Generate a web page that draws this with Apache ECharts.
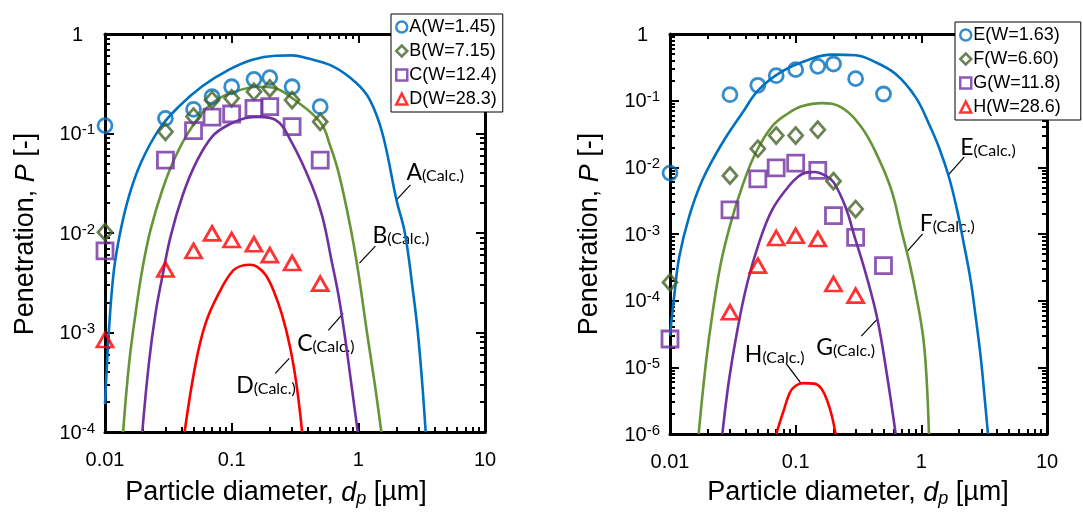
<!DOCTYPE html>
<html>
<head>
<meta charset="utf-8">
<script src="https://cdn.jsdelivr.net/npm/echarts@6/dist/echarts.min.js"></script>
<style>
  html, body { margin: 0; padding: 0; background: #fff; }
  #chart { width: 1083px; height: 514px; }
</style>
</head>
<body>
<div id="chart"></div>
<script>
// ---------------- data ----------------
// Left panel: measured penetration
const dpLeft = [0.01, 0.03, 0.05, 0.07, 0.1, 0.15, 0.2, 0.3, 0.5];
const penA = [0.12, 0.142, 0.175, 0.234, 0.295, 0.35, 0.364, 0.295, 0.186];
const penB = [0.0102, 0.104, 0.148, 0.217, 0.226, 0.263, 0.284, 0.217, 0.131];
const penC = [0.0066, 0.054, 0.107, 0.146, 0.157, 0.179, 0.186, 0.117, 0.054];
const penD = [0.00084, 0.0043, 0.0066, 0.0099, 0.0085, 0.0077, 0.006, 0.005, 0.0031];

// Right panel: measured penetration
const dpE = [0.01, 0.03, 0.05, 0.07, 0.1, 0.15, 0.2, 0.3, 0.5];
const penE = [0.0082, 0.123, 0.17, 0.237, 0.292, 0.327, 0.355, 0.214, 0.126];
const dpF = [0.01, 0.03, 0.05, 0.07, 0.1, 0.15, 0.2, 0.3];
const penF = [1.88e-4, 7.5e-3, 0.019, 0.030, 0.030, 0.0367, 6.2e-3, 2.37e-3];
const dpG = [0.01, 0.03, 0.05, 0.07, 0.1, 0.15, 0.2, 0.3, 0.5];
const penG = [2.66e-5, 2.3e-3, 6.7e-3, 9.8e-3, 0.0116, 9.0e-3, 1.88e-3, 8.9e-4, 3.35e-4];
const dpH = [0.03, 0.05, 0.07, 0.1, 0.15, 0.2, 0.3];
const penH = [6.7e-5, 3.35e-4, 8.7e-4, 9.4e-4, 8.4e-4, 1.78e-4, 1.19e-4];

// Calculated curves, left panel
const calcA_dp = [0.01, 0.01075, 0.01178, 0.0133, 0.01545, 0.0191, 0.0267, 0.0384, 0.0586, 0.0953, 0.146, 0.222, 0.3, 0.388, 0.631, 0.964, 1.23, 1.55, 2.0, 2.33, 2.7, 2.95, 3.2, 3.4];
const calcA_p  = [1.9e-4, 1.07e-3, 4.3e-3, 0.0107, 0.0234, 0.050, 0.110, 0.187, 0.298, 0.438, 0.552, 0.605, 0.61, 0.574, 0.473, 0.322, 0.219, 0.1, 0.0215, 0.01, 2.6e-3, 1e-3, 3e-4, 1e-4];
const calcB_dp = [0.0139, 0.0155, 0.01746, 0.0197, 0.0229, 0.0284, 0.0361, 0.049, 0.0704, 0.1076, 0.164, 0.22, 0.3, 0.5, 0.6, 0.7, 0.86, 1.0, 1.17, 1.35, 1.52];
const calcB_p  = [1e-4, 4.9e-4, 1.58e-3, 4.3e-3, 0.0108, 0.0272, 0.059, 0.118, 0.203, 0.265, 0.295, 0.285, 0.227, 0.13, 0.075, 0.04, 0.012, 4e-3, 1e-3, 3e-4, 1e-4];
const calcC_dp = [0.0197, 0.0222, 0.0251, 0.0284, 0.033, 0.0408, 0.052, 0.0704, 0.0953, 0.129, 0.164, 0.22, 0.3, 0.43, 0.52, 0.62, 0.7, 0.78, 0.86, 0.93, 0.99];
const calcC_p  = [1e-4, 4.9e-4, 1.58e-3, 3.67e-3, 9.3e-3, 0.0234, 0.050, 0.0935, 0.123, 0.143, 0.147, 0.138, 0.08, 0.03, 0.0146, 5e-3, 2.3e-3, 9.5e-4, 3.8e-4, 1.8e-4, 1e-4];
const calcD_dp = [0.0425, 0.052, 0.0624, 0.0795, 0.101, 0.121, 0.14, 0.158, 0.185, 0.215, 0.25, 0.29, 0.325, 0.36];
const calcD_p  = [1e-4, 4.9e-4, 1.25e-3, 2.5e-3, 4.1e-3, 4.7e-3, 4.8e-3, 4.6e-3, 3.8e-3, 2.6e-3, 1.5e-3, 7e-4, 3e-4, 1e-4];

// Calculated curves, right panel
const calcE_dp = [0.01, 0.0108, 0.01186, 0.01422, 0.01815, 0.0261, 0.0376, 0.0509, 0.078, 0.127, 0.194, 0.3, 0.407, 0.625, 0.902, 1.15, 1.38, 1.66, 1.93, 2.18, 2.47, 2.71, 2.97, 3.19, 3.39];
const calcE_p  = [3e-5, 1.16e-4, 4.6e-4, 1.84e-3, 6.5e-3, 0.0232, 0.0653, 0.146, 0.275, 0.412, 0.49, 0.48, 0.398, 0.251, 0.112, 0.0447, 0.02, 7.1e-3, 2.24e-3, 7.1e-4, 2.0e-4, 5.6e-5, 1.41e-5, 3.5e-6, 1e-6];
const calcF_dp = [0.0169, 0.0193, 0.0218, 0.0254, 0.0304, 0.0376, 0.048, 0.065, 0.088, 0.112, 0.161, 0.231, 0.334, 0.453, 0.579, 0.695, 0.81, 0.916, 1.035, 1.1, 1.15];
const calcF_p  = [1e-6, 1.16e-5, 6.5e-5, 3.67e-4, 1.46e-3, 5.2e-3, 0.0164, 0.0412, 0.0653, 0.0822, 0.092, 0.0794, 0.0398, 0.0141, 4.5e-3, 1.12e-3, 3.5e-4, 1.12e-4, 2.8e-5, 7e-6, 1e-6];
const calcG_dp = [0.0261, 0.0295, 0.0344, 0.0412, 0.051, 0.065, 0.088, 0.105, 0.123, 0.143, 0.17, 0.2, 0.25, 0.295, 0.367, 0.447, 0.53, 0.625];
const calcG_p  = [1e-6, 6.5e-6, 3.67e-5, 1.84e-4, 7.3e-4, 2.3e-3, 5.2e-3, 7.3e-3, 8.4e-3, 8.5e-3, 7.6e-3, 6.0e-3, 2.5e-3, 9e-4, 2.3e-4, 5.3e-5, 8.2e-6, 1e-6];
const calcH_dp = [0.07, 0.08, 0.09, 0.1, 0.115, 0.14, 0.16, 0.18, 0.195, 0.208];
const calcH_p  = [1e-6, 2.2e-6, 4.2e-6, 5.3e-6, 5.8e-6, 5.7e-6, 4.8e-6, 3e-6, 1.8e-6, 1e-6];

// Axis ticks and labels
const xTicks = [0.01, 0.1, 1, 10];
const xTickLabels = ['0.01', '0.1', '1', '10'];
const yTicksLeft = [1e-4, 1e-3, 1e-2, 1e-1, 1];
const yTicksRight = [1e-6, 1e-5, 1e-4, 1e-3, 1e-2, 1e-1, 1];

// Legend names
const namesLeft = ['A(W=1.45)', 'B(W=7.15)', 'C(W=12.4)', 'D(W=28.3)'];
const namesRight = ['E(W=1.63)', 'F(W=6.60)', 'G(W=11.8)', 'H(W=28.6)'];

// ---------------- styling ----------------
const FONT = '"Liberation Sans", Arial, Helvetica, sans-serif';
const CALC_FONT = 'Lato, "Open Sans", sans-serif';
const BLUE = '#0070C0';
const GREEN_LINE = '#669436';
const GREEN_MARK = '#456228';
const PURPLE = '#7030A0';
const RED = '#FF0000';

const grids = [
  { left: 105, top: 34, width: 380, height: 398 },
  { left: 670, top: 34, width: 377, height: 400 }
];

const AX_PER_GRID = 5;

function exps(ticks) { return ticks.map(v => Math.round(Math.log10(v))); }
function minorExps(ticks) {
  const e = exps(ticks), out = [];
  for (let i = 0; i < e.length - 1; i++) {
    for (let k = 2; k <= 9; k++) out.push(e[i] + Math.log10(k));
  }
  return out;
}

const yRich = {
  b: { fontSize: 20, fontFamily: FONT, color: '#000', lineHeight: 22, verticalAlign: 'bottom' },
  s: { fontSize: 15, fontFamily: FONT, color: '#000', lineHeight: 16, verticalAlign: 'top' },
  pad: { width: 12, fontSize: 15, lineHeight: 16 }
};

function yLabel(v) {
  const e = Math.round(v);
  if (e === 0) return '{b|1}{pad|\u00a0}';
  return '{b|10}{s|' + e + '}';
}
function xLabel(v) {
  const e = Math.round(v);
  const idx = exps(xTicks).indexOf(e);
  return idx >= 0 ? xTickLabels[idx] : '';
}

function decorAxis(g, pos, tickVals, minor, withLabel, isX) {
  const ex = exps(tickVals);
  const lo = ex[0], hi = ex[ex.length - 1];
  const vals = minor ? minorExps(tickVals) : ex;
  const ax = {
    type: 'value', gridIndex: g, min: lo, max: hi, position: pos,
    silent: true,
    axisLine: { show: !minor, onZero: false, lineStyle: { color: '#000', width: 3 } },
    axisTick: { show: true, inside: true, length: minor ? 5 : 9, customValues: vals,
                lineStyle: { color: '#000', width: 2 } },
    axisLabel: { show: withLabel },
    splitLine: { show: false },
    minorTick: { show: false },
    axisPointer: { show: false }
  };
  if (withLabel) {
    if (isX) {
      ax.axisLabel = { show: true, customValues: ex, formatter: xLabel, margin: 18,
                       fontSize: 20, fontFamily: FONT, color: '#000' };
    } else {
      ax.axisLabel = { show: true, customValues: ex, formatter: yLabel, margin: 10, rich: yRich,
                       fontFamily: FONT, color: '#000' };
    }
  }
  return ax;
}

function axesFor(g, isX, ticks) {
  const dataAxis = {
    type: 'log', logBase: 10, gridIndex: g, show: false,
    min: ticks[0], max: ticks[ticks.length - 1],
    axisLine: { onZero: false }, splitLine: { show: false }
  };
  const p1 = isX ? 'bottom' : 'left', p2 = isX ? 'top' : 'right';
  return [
    dataAxis,
    decorAxis(g, p1, ticks, false, true, isX),
    decorAxis(g, p1, ticks, true, false, isX),
    decorAxis(g, p2, ticks, false, false, isX),
    decorAxis(g, p2, ticks, true, false, isX)
  ];
}

const xAxes = [].concat(axesFor(0, true, xTicks), axesFor(1, true, xTicks));
const yAxes = [].concat(axesFor(0, false, yTicksLeft), axesFor(1, false, yTicksRight));

function pairs(xs, ys) { return xs.map((x, i) => [x, ys[i]]); }

function curve(name, xs, ys, color, g) {
  return {
    type: 'line', name: name, xAxisIndex: g * AX_PER_GRID, yAxisIndex: g * AX_PER_GRID,
    data: pairs(xs, ys), showSymbol: false, symbol: 'none',
    smooth: 0.4, clip: true, silent: true, z: 2,
    lineStyle: { color: color, width: 2.6 }, itemStyle: { color: color }
  };
}
function points(name, xs, ys, symbol, size, color, g) {
  return {
    type: 'scatter', name: name, xAxisIndex: g * AX_PER_GRID, yAxisIndex: g * AX_PER_GRID,
    data: pairs(xs, ys), symbol: symbol, symbolSize: size, clip: false, silent: true, z: 3,
    itemStyle: { color: 'rgba(255,255,255,0)', borderColor: color, borderWidth: 2.8 }
  };
}

const series = [
  curve('A(Calc.)', calcA_dp, calcA_p, BLUE, 0),
  curve('B(Calc.)', calcB_dp, calcB_p, GREEN_LINE, 0),
  curve('C(Calc.)', calcC_dp, calcC_p, PURPLE, 0),
  curve('D(Calc.)', calcD_dp, calcD_p, RED, 0),
  points(namesLeft[0], dpLeft, penA, 'circle', 14, BLUE, 0),
  points(namesLeft[1], dpLeft, penB, 'diamond', [14, 16], GREEN_MARK, 0),
  points(namesLeft[2], dpLeft, penC, 'rect', 16, PURPLE, 0),
  points(namesLeft[3], dpLeft, penD, 'triangle', [16, 14], RED, 0),

  curve('E(Calc.)', calcE_dp, calcE_p, BLUE, 1),
  curve('F(Calc.)', calcF_dp, calcF_p, GREEN_LINE, 1),
  curve('G(Calc.)', calcG_dp, calcG_p, PURPLE, 1),
  curve('H(Calc.)', calcH_dp, calcH_p, RED, 1),
  points(namesRight[0], dpE, penE, 'circle', 14, BLUE, 1),
  points(namesRight[1], dpF, penF, 'diamond', [14, 16], GREEN_MARK, 1),
  points(namesRight[2], dpG, penG, 'rect', 16, PURPLE, 1),
  points(namesRight[3], dpH, penH, 'triangle', [16, 14], RED, 1)
];

function legendFor(names, left, top, padRight) {
  return {
    data: names, orient: 'vertical', left: left, top: top,
    itemWidth: 11, itemHeight: 11, itemGap: 6,
    padding: [4, padRight, 4, 4],
    backgroundColor: '#fff', borderColor: '#000', borderWidth: 1,
    selectedMode: false,
    itemStyle: { borderWidth: 2.5 },
    textStyle: { fontSize: 18, lineHeight: 18, fontFamily: FONT, color: '#000', padding: [0, 0, 0, -3] }
  };
}

const chart = echarts.init(document.getElementById('chart'), null, { renderer: 'canvas' });

chart.setOption({
  animation: false,
  backgroundColor: '#fff',
  grid: grids,
  xAxis: xAxes,
  yAxis: yAxes,
  legend: [legendFor(namesLeft, 391, 14, 6), legendFor(namesRight, 955, 22, 20)],
  series: series
});

// ---------------- titles and curve labels ----------------
const titleRich = {
  n: { fontSize: 27, fontFamily: FONT, color: '#000', lineHeight: 30 },
  i: { fontSize: 27, fontFamily: FONT, color: '#000', fontStyle: 'italic', lineHeight: 30 },
  sub: { fontSize: 18, fontFamily: FONT, color: '#000', fontStyle: 'italic', lineHeight: 12, verticalAlign: 'bottom' }
};

function xTitle(cx, cy) {
  return {
    type: 'text', x: cx, y: cy, silent: true,
    style: { text: '{n|Particle diameter, }{i|d}{sub|p}{n| [µm]}', rich: titleRich,
             align: 'center', verticalAlign: 'middle' }
  };
}
function yTitle(cx, cy) {
  return {
    type: 'text', x: cx, y: cy, rotation: Math.PI / 2, silent: true,
    style: { text: '{n|Penetration, }{i|P}{n| [-]}', rich: titleRich,
             align: 'center', verticalAlign: 'middle' }
  };
}

const calcRich = {
  L: { fontSize: 23, fontFamily: CALC_FONT, color: '#111', lineHeight: 24, verticalAlign: 'bottom' },
  c: { fontSize: 16, fontFamily: CALC_FONT, color: '#111', lineHeight: 18, verticalAlign: 'bottom' }
};

// Curve labels: point on the curve, text offset and leader-line start offset (pixels)
const calcLabels = [
  { g: 0, t: 'A', at: [2.0, 0.0215],   dx: 10,  dy: -16, va: 'bottom', lead: [14, -15] },
  { g: 0, t: 'B', at: [1.02, 4.97e-3], dx: 13,  dy: -16, va: 'bottom', lead: [16, -17] },
  { g: 0, t: 'C', at: [0.76, 1.56e-3], dx: -46, dy: 18,  va: 'top',    lead: [-15, 17] },
  { g: 0, t: 'D', at: [0.285, 5.5e-4], dx: -53, dy: 15,  va: 'top',    lead: [-14, 15] },
  { g: 1, t: 'E', at: [1.64, 7.7e-3],  dx: 12,  dy: -16, va: 'bottom', lead: [16, -18] },
  { g: 1, t: 'F', at: [0.778, 5.6e-4], dx: 12,  dy: -16, va: 'bottom', lead: [15, -17] },
  { g: 1, t: 'G', at: [0.446, 5.3e-5], dx: -61, dy: 16,  va: 'top',    lead: [-16, 17] },
  { g: 1, t: 'H', at: [0.11, 5.8e-6],  dx: -56, dy: -17, va: 'bottom', lead: [-15, -20] }
];

const graphics = [xTitle(276, 493), xTitle(858, 493), yTitle(26, 234), yTitle(590, 234)];

calcLabels.forEach(function (c) {
  const idx = c.g * AX_PER_GRID;
  const p = chart.convertToPixel({ xAxisIndex: idx, yAxisIndex: idx }, c.at);
  graphics.push({
    type: 'line', silent: true,
    shape: { x1: p[0] + c.lead[0], y1: p[1] + c.lead[1], x2: p[0], y2: p[1] },
    style: { stroke: '#000', lineWidth: 1.2 }
  });
  graphics.push({
    type: 'text', silent: true, x: p[0] + c.dx, y: p[1] + c.dy,
    style: { text: '{L|' + c.t + '}{c|(Calc.)}', rich: calcRich, align: 'left', verticalAlign: c.va }
  });
});

chart.setOption({ graphic: graphics });
</script>
</body>
</html>
